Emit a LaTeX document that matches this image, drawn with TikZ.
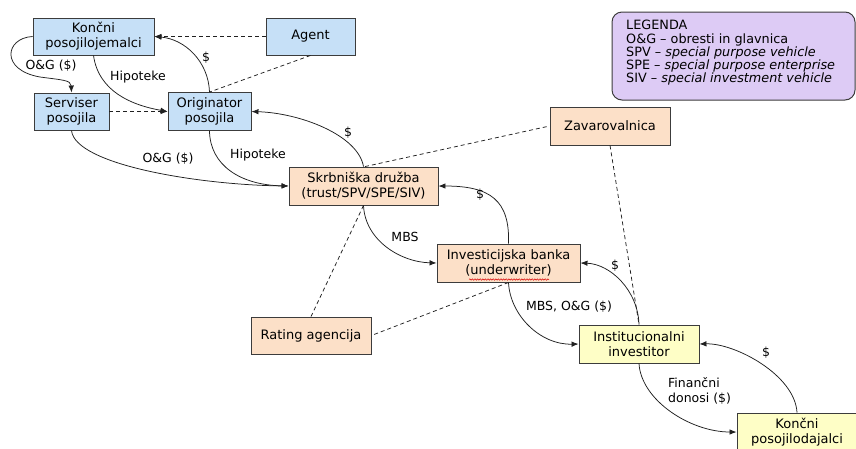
\documentclass[tikz,border=0pt]{standalone}
\usepackage{fontspec}
\setmainfont{DejaVu Sans}
\usetikzlibrary{arrows.meta,decorations.pathmorphing}
\definecolor{bluefill}{HTML}{C6E0F7}
\definecolor{orangefill}{HTML}{FCE0C8}
\definecolor{yellowfill}{HTML}{FEFEC6}
\definecolor{legendfill}{HTML}{DDCBF5}
\definecolor{edgegray}{HTML}{3C3C3C}
\definecolor{linegray}{HTML}{202020}
\begin{document}
\begin{tikzpicture}[x=1pt,y=1pt,
  box/.style={draw=edgegray, line width=0.9pt, align=center, inner sep=0pt,
    font=\fontsize{13}{15}\selectfont},
  bluebox/.style={box, fill=bluefill},
  orangebox/.style={box, fill=orangefill},
  yellowbox/.style={box, fill=yellowfill},
  flow/.style={draw=linegray, line width=0.75pt, -{Latex[length=7pt,width=5.5pt]}},
  dflow/.style={flow, dash pattern=on 4pt off 3pt},
  dlink/.style={draw=linegray, line width=0.75pt, dash pattern=on 4pt off 3pt},
  lbl/.style={font=\fontsize{12.5}{15}\selectfont, inner sep=0pt},
]
\useasboundingbox (0,-448) rectangle (856,0);

% boxes
\node[bluebox, minimum width=121pt, minimum height=37pt] (kpj) at (93.5,-36.5) {Končni\\posojilojemalci};
\node[bluebox, minimum width=89pt, minimum height=37pt] (agent) at (310.5,-36.5) {Agent};
\node[bluebox, minimum width=75pt, minimum height=37pt] (ser) at (71.5,-111.5) {Serviser\\posojila};
\node[bluebox, minimum width=83pt, minimum height=38pt] (orig) at (209.5,-111.5) {Originator\\posojila};
\node[orangebox, minimum width=149pt, minimum height=38pt] (skrb) at (363.5,-186) {Skrbniška družba\\(trust/SPV/SPE/SIV)};
\node[orangebox, minimum width=120pt, minimum height=38pt] (zav) at (610,-126) {Zavarovalnica};
\node[orangebox, minimum width=143pt, minimum height=38pt] (inv) at (508.5,-263) {Investicijska banka\\(underwriter)};
\node[orangebox, minimum width=120pt, minimum height=37pt] (rat) at (311,-335.5) {Rating agencija};
\node[yellowbox, minimum width=120pt, minimum height=38pt] (inst) at (639,-344) {Institucionalni\\investitor};
\node[yellowbox, minimum width=120pt, minimum height=38pt] (kpd) at (797,-432) {Končni\\posojilodajalci};

% spell-check squiggle under "underwriter"
\draw[red!85!black, line width=0.5pt, decorate, decoration={snake, amplitude=0.7pt, segment length=2.6pt}] (469,-279.5) -- (549,-279.5);

% legend
\draw[draw=edgegray, line width=1pt, fill=legendfill, rounded corners=10pt] (612,-12) rectangle (855,-100);
\node[anchor=north west, align=left, inner sep=0pt, font=\fontsize{12.8}{13.3}\selectfont] (leg) at (626,-20)
  {LEGENDA\\O\&G – obresti in glavnica\\SPV – \textit{special purpose vehicle}\\SPE – \textit{special purpose enterprise}\\SIV – \textit{special investment vehicle}};

% connectors
\draw[dflow] (agent.west) -- (kpj.east);
\draw[dlink] (agent.south) -- (orig.north);
\draw[flow] (orig.north) to[out=92,in=-5] (kpj.east);
\node[lbl] (l1) at (206,-58) {\$};

\draw[flow] (kpj.west) .. controls (5,-38) and (0,-70) .. (40,-77) .. controls (62,-80) and (71,-80) .. (ser.north);
\node[lbl] (l2) at (51,-66) {O\&G (\$)};

\draw[flow] (kpj.south) to[out=-82,in=170] (orig.west);
\node[lbl] (l3) at (138,-77) {Hipoteke};

\draw[dflow] (ser.east) -- (orig.west);

\draw[flow] (ser.south) .. controls (75,-165) and (200,-185) .. (skrb.west);
\node[lbl] (l4) at (168,-159) {O\&G (\$)};

\draw[flow] (orig.south) .. controls (210,-165) and (240,-185) .. (skrb.west);
\node[lbl] (l5) at (258,-155) {Hipoteke};

\draw[flow] (skrb.north) .. controls (358,-135) and (300,-113) .. (orig.east);
\node[lbl] (l6) at (348,-133) {\$};

\draw[dlink] ([xshift=1.5pt]skrb.north) -- (zav.west);

\draw[flow] (skrb.south) .. controls (365,-240) and (400,-262) .. (inv.west);
\node[lbl] (l7) at (405,-237) {MBS};

\draw[flow] (inv.north) .. controls (510,-200) and (490,-186) .. (skrb.east);
\node[lbl] (l8) at (480,-195) {\$};

\draw[dlink] (skrb.south) -- (rat.north);
\draw[dlink] (inv.south) -- (rat.east);
\draw[dlink] (zav.south) -- (inst.north);

\draw[flow] (inv.south) .. controls (510,-315) and (540,-345) .. (inst.west);
\node[lbl] (l9) at (569,-307) {MBS, O\&G (\$)};

\draw[flow] (inst.north) .. controls (638,-290) and (610,-264) .. (inv.east);
\node[lbl] (l10) at (615,-266) {\$};

\draw[flow] (inst.south) .. controls (641,-400) and (690,-432) .. (kpd.west);
\node[lbl, anchor=west, align=left] (l11) at (668,-391) {Finančni\\donosi (\$)};

\draw[flow] (kpd.north) .. controls (795,-375) and (735,-343) .. (inst.east);
\node[lbl] (l12) at (766,-353) {\$};
\end{tikzpicture}
\end{document}
